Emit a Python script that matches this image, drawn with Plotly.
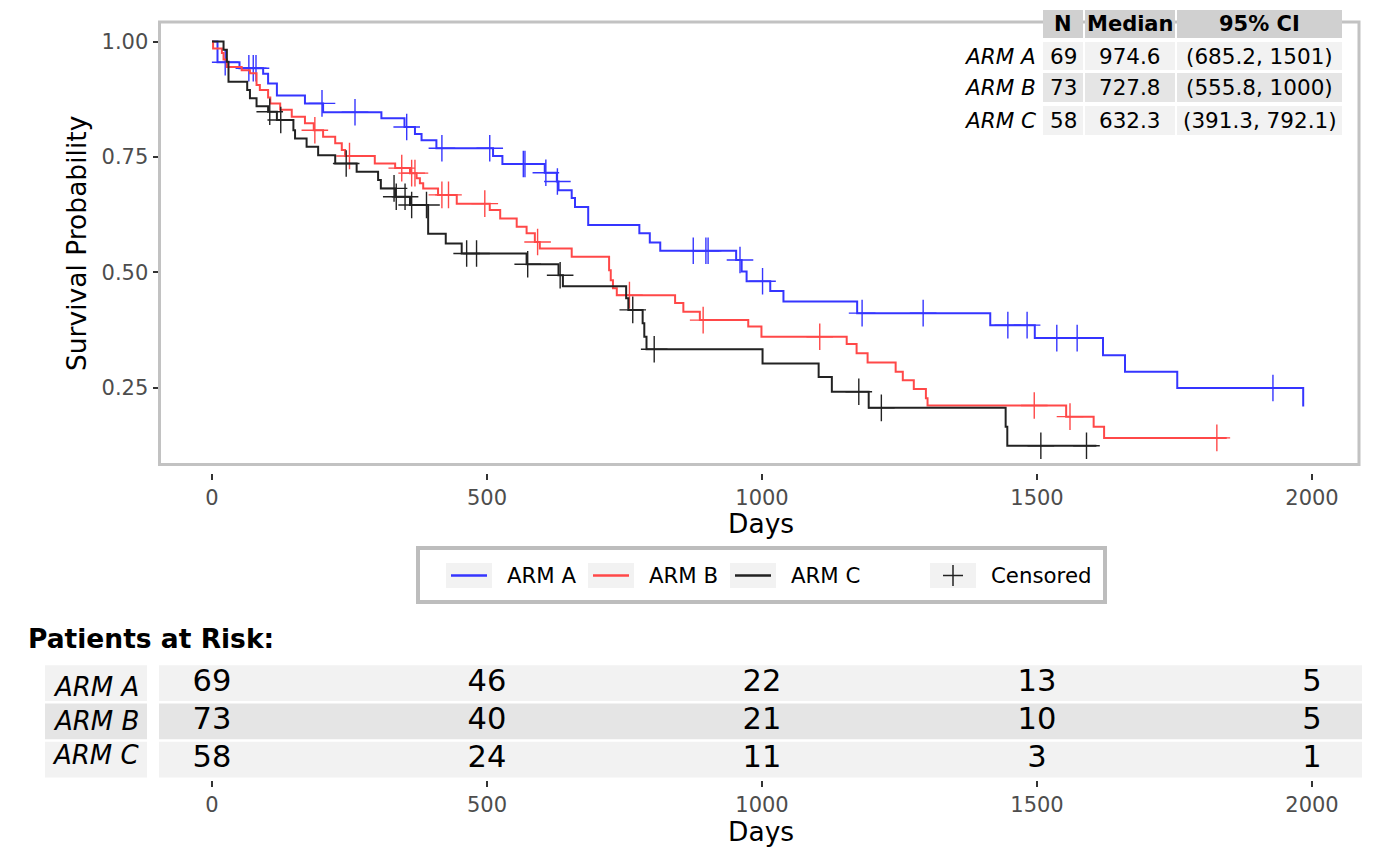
import numpy as np
import plotly.graph_objects as go

# the page body has an 8px margin, so the figure is made 16px smaller and every
# pixel position below is measured on the 1400x866 screenshot and shifted by 8
PAGE_PAD = 8
W, H = 1400 - 2 * PAGE_PAD, 866 - 2 * PAGE_PAD
FONT = "DejaVu Sans"

# ---- data ------------------------------------------------------------------
arm_names = ["ARM A", "ARM B", "ARM C"]
arm_colors = ["#3535FF", "#FF4848", "#222222"]

arm_a_time = [0, 10, 50, 93, 102, 118, 169, 202, 308, 350, 369, 381, 408, 511, 528, 605,
              627, 630, 654, 660, 684, 777, 796, 815, 953, 963, 972, 1015, 1039, 1173, 1415,
              1496, 1620, 1660, 1755, 1984]
arm_a_surv = [1.0, 0.955, 0.942, 0.93, 0.909, 0.883, 0.866, 0.847, 0.834, 0.815, 0.80, 0.786,
              0.769, 0.752, 0.735, 0.716, 0.697, 0.678, 0.661, 0.642, 0.603, 0.585, 0.565,
              0.547, 0.527, 0.502, 0.481, 0.46, 0.437, 0.412, 0.386, 0.358, 0.321, 0.285,
              0.25, 0.21]
arm_a_cens = [24, 67, 75, 80, 200, 260, 354, 418, 505, 566, 569, 607, 628, 875, 898, 902,
              960, 1001, 1182, 1293, 1447, 1482, 1536, 1573, 1929]

arm_b_time = [0, 2, 18, 21, 27, 54, 69, 81, 87, 102, 106, 124, 145, 169, 185, 202, 224, 236,
              242, 296, 333, 360, 372, 378, 384, 411, 445, 505, 524, 554, 572, 587, 596, 654,
              722, 725, 729, 736, 842, 857, 887, 975, 999, 1154, 1172, 1192, 1243, 1256, 1276,
              1298, 1301, 1553, 1603, 1622, 1845]
arm_b_surv = [1.0, 0.985, 0.975, 0.961, 0.945, 0.938, 0.931, 0.906, 0.895, 0.879, 0.866,
              0.852, 0.837, 0.823, 0.808, 0.794, 0.78, 0.765, 0.752, 0.736, 0.726, 0.715,
              0.704, 0.693, 0.682, 0.668, 0.649, 0.635, 0.617, 0.599, 0.585, 0.566, 0.552,
              0.534, 0.505, 0.483, 0.466, 0.451, 0.434, 0.415, 0.397, 0.383, 0.361, 0.345,
              0.325, 0.305, 0.285, 0.267, 0.248, 0.228, 0.212, 0.188, 0.166, 0.142, 0.142]
arm_b_cens = [187, 250, 345, 363, 369, 418, 430, 496, 592, 759, 893, 1105, 1495, 1560, 1827]

arm_c_time = [0, 21, 27, 30, 64, 69, 81, 102, 118, 148, 151, 172, 193, 224, 263, 302, 307,
              333, 360, 393, 425, 454, 572, 630, 638, 753, 757, 783, 786, 790, 1001, 1103,
              1127, 1194, 1443, 1446, 1608]
arm_c_surv = [1.0, 0.982, 0.956, 0.913, 0.895, 0.877, 0.86, 0.848, 0.83, 0.808, 0.79, 0.772,
              0.754, 0.736, 0.718, 0.70, 0.682, 0.664, 0.646, 0.584, 0.563, 0.541, 0.518,
              0.494, 0.47, 0.444, 0.419, 0.39, 0.361, 0.334, 0.303, 0.274, 0.242, 0.207,
              0.166, 0.125, 0.125]
arm_c_cens = [105, 125, 244, 331, 335, 351, 363, 390, 463, 481, 574, 633, 765, 804, 1176,
              1217, 1507, 1590]

summary_n = [69, 73, 58]
summary_median = ["974.6", "727.8", "632.3"]
summary_ci = ["(685.2, 1501)", "(555.8, 1000)", "(391.3, 792.1)"]

risk_days = [0, 500, 1000, 1500, 2000]
risk_a = [69, 46, 22, 13, 5]
risk_b = [73, 40, 21, 10, 5]
risk_c = [58, 24, 11, 3, 1]

y_ticks = [0.25, 0.50, 0.75, 1.00]
y_tick_text = ["0.25", "0.50", "0.75", "1.00"]


def fx(p):
    return (p - PAGE_PAD) / W


def fy(p):
    return 1 - (p - PAGE_PAD) / H


def surv_at(times, surv, t):
    # value of the KM step function at the censoring times
    idx = np.searchsorted(times, t, side="right") - 1
    return np.asarray(surv)[idx]


def label(x, y, text, size, xanchor="center", yanchor="middle", yref="paper", **kw):
    return dict(xref="paper", yref=yref, x=x, y=y, text=text, showarrow=False,
                xanchor=xanchor, yanchor=yanchor,
                font=dict(size=size, color="black", family=FONT), **kw)


arms = [
    (arm_a_time, arm_a_surv, arm_a_cens),
    (arm_b_time, arm_b_surv, arm_b_cens),
    (arm_c_time, arm_c_surv, arm_c_cens),
]

fig = go.Figure()

for (t, s, c), col in zip(arms, arm_colors):
    fig.add_trace(go.Scatter(
        x=t, y=s, mode="lines",
        line=dict(color=col, width=2, shape="hv"),
        showlegend=False, hoverinfo="skip"
    ))
    fig.add_trace(go.Scatter(
        x=c, y=surv_at(t, s, c), mode="markers",
        marker=dict(symbol="cross-thin", size=19, color=col, line=dict(color=col, width=1.4)),
        showlegend=False, hoverinfo="skip"
    ))

# patients at risk numbers
risk_rows = [risk_a, risk_b, risk_c]
for i, vals in enumerate(risk_rows):
    fig.add_trace(go.Scatter(
        x=risk_days, y=[2 - i] * len(risk_days), mode="text",
        text=[str(v) for v in vals],
        textfont=dict(size=30.5, color="black", family=FONT),
        xaxis="x2", yaxis="y2", showlegend=False, hoverinfo="skip"
    ))

shapes = []
annotations = []

# panel border of the survival plot
shapes.append(dict(type="rect", xref="paper", yref="paper", x0=fx(159.5), x1=fx(1359),
                   y0=fy(464.5), y1=fy(22), line=dict(color="#c2c2c2", width=3), layer="above"))

# risk table row backgrounds + label boxes
row_fill = ["#f2f2f2", "#e5e5e5", "#f2f2f2"]
label_shift = [-0.1, 0.0, 0.13]
for i, name in enumerate(arm_names):
    r = 2 - i
    shapes.append(dict(type="rect", xref="paper", yref="y2", x0=fx(159), x1=fx(1362),
                       y0=r - 0.47, y1=r + 0.47, fillcolor=row_fill[i], line_width=0, layer="below"))
    shapes.append(dict(type="rect", xref="paper", yref="y2", x0=fx(45), x1=fx(147),
                       y0=r - 0.47, y1=r + 0.47, fillcolor=row_fill[i], line_width=0, layer="below"))
    annotations.append(label(fx(96), r + label_shift[i], "<i>%s</i>" % name, 26, yref="y2"))

annotations.append(label(fx(26), fy(638), "<b>Patients at Risk:</b>", 26.5, xanchor="left"))

# axis titles
annotations.append(label(fx(77), fy(244), "Survival Probability", 26.5, textangle=-90))
annotations.append(label(fx(761), fy(523), "Days", 26.5))
annotations.append(label(fx(761), fy(831), "Days", 26.5))

# summary table in the top right corner
cols = [(1043, 1083), (1085, 1175), (1177, 1342)]
headers = ["N", "Median", "95% CI"]
rows_y = [(42, 70), (73, 102), (106, 135)]
for (x0, x1), head in zip(cols, headers):
    shapes.append(dict(type="rect", xref="paper", yref="paper", x0=fx(x0), x1=fx(x1),
                       y0=fy(38), y1=fy(10), fillcolor="#d0d0d0", line_width=0, layer="above"))
    annotations.append(label(fx((x0 + x1) / 2), fy(24), "<b>%s</b>" % head, 21))
for i, name in enumerate(arm_names):
    y0, y1 = rows_y[i]
    cells = [str(summary_n[i]), summary_median[i], summary_ci[i]]
    for (x0, x1), txt in zip(cols, cells):
        shapes.append(dict(type="rect", xref="paper", yref="paper", x0=fx(x0), x1=fx(x1),
                           y0=fy(y1), y1=fy(y0), fillcolor=row_fill[i], line_width=0, layer="above"))
        annotations.append(label(fx((x0 + x1) / 2), fy((y0 + y1) / 2), txt, 21.5))
    annotations.append(label(fx(1038), fy((y0 + y1) / 2), "<i>%s</i>" % name, 21.5, xanchor="right"))

# legend box drawn by hand (ggplot style keys)
shapes.append(dict(type="rect", xref="paper", yref="paper", x0=fx(418), x1=fx(1105),
                   y0=fy(602), y1=fy(548), fillcolor="white",
                   line=dict(color="#bdbdbd", width=4)))
key_x = [446, 588, 730, 930]
key_labels = arm_names + ["Censored"]
for k, kx in enumerate(key_x):
    shapes.append(dict(type="rect", xref="paper", yref="paper", x0=fx(kx), x1=fx(kx + 46),
                       y0=fy(588), y1=fy(563), fillcolor="#f2f2f2", line_width=0))
    if k < 3:
        shapes.append(dict(type="line", xref="paper", yref="paper", x0=fx(kx + 5), x1=fx(kx + 41),
                           y0=fy(575.5), y1=fy(575.5), line=dict(color=arm_colors[k], width=2.5)))
    else:
        shapes.append(dict(type="line", xref="paper", yref="paper", x0=fx(kx + 13), x1=fx(kx + 33),
                           y0=fy(575.5), y1=fy(575.5), line=dict(color="#222222", width=1.5)))
        shapes.append(dict(type="line", xref="paper", yref="paper", x0=fx(kx + 23), x1=fx(kx + 23),
                           y0=fy(565), y1=fy(586), line=dict(color="#222222", width=1.5)))
    annotations.append(label(fx(kx + 59), fy(575.5), key_labels[k], 21.3, xanchor="left"))

tick_style = dict(ticks="outside", ticklen=6, tickwidth=2, tickcolor="#333333",
                  tickfont=dict(size=21, color="#4d4d4d", family=FONT),
                  showgrid=False, zeroline=False, showline=False)

x_range = [(159.5 - 212) / 0.55, (1359 - 212) / 0.55]

fig.update_layout(
    width=W, height=H,
    margin=dict(l=0, r=0, t=0, b=0),
    paper_bgcolor="white", plot_bgcolor="white",
    font=dict(family=FONT),
    xaxis=dict(domain=[fx(159.5), fx(1359)], range=x_range, tickvals=risk_days,
               anchor="free", position=fy(473), **tick_style),
    yaxis=dict(domain=[fy(464.5), fy(22)], range=[0.0844, 1.0422], tickvals=y_ticks,
               ticktext=y_tick_text, anchor="x", **tick_style),
    xaxis2=dict(domain=[fx(159.5), fx(1359)], range=x_range, tickvals=risk_days,
                anchor="y2", **tick_style),
    yaxis2=dict(domain=[fy(780), fy(664)], range=[-0.533, 2.5], visible=False, anchor="x2"),
    shapes=shapes,
    annotations=annotations,
)

fig.write_html("out.html")
